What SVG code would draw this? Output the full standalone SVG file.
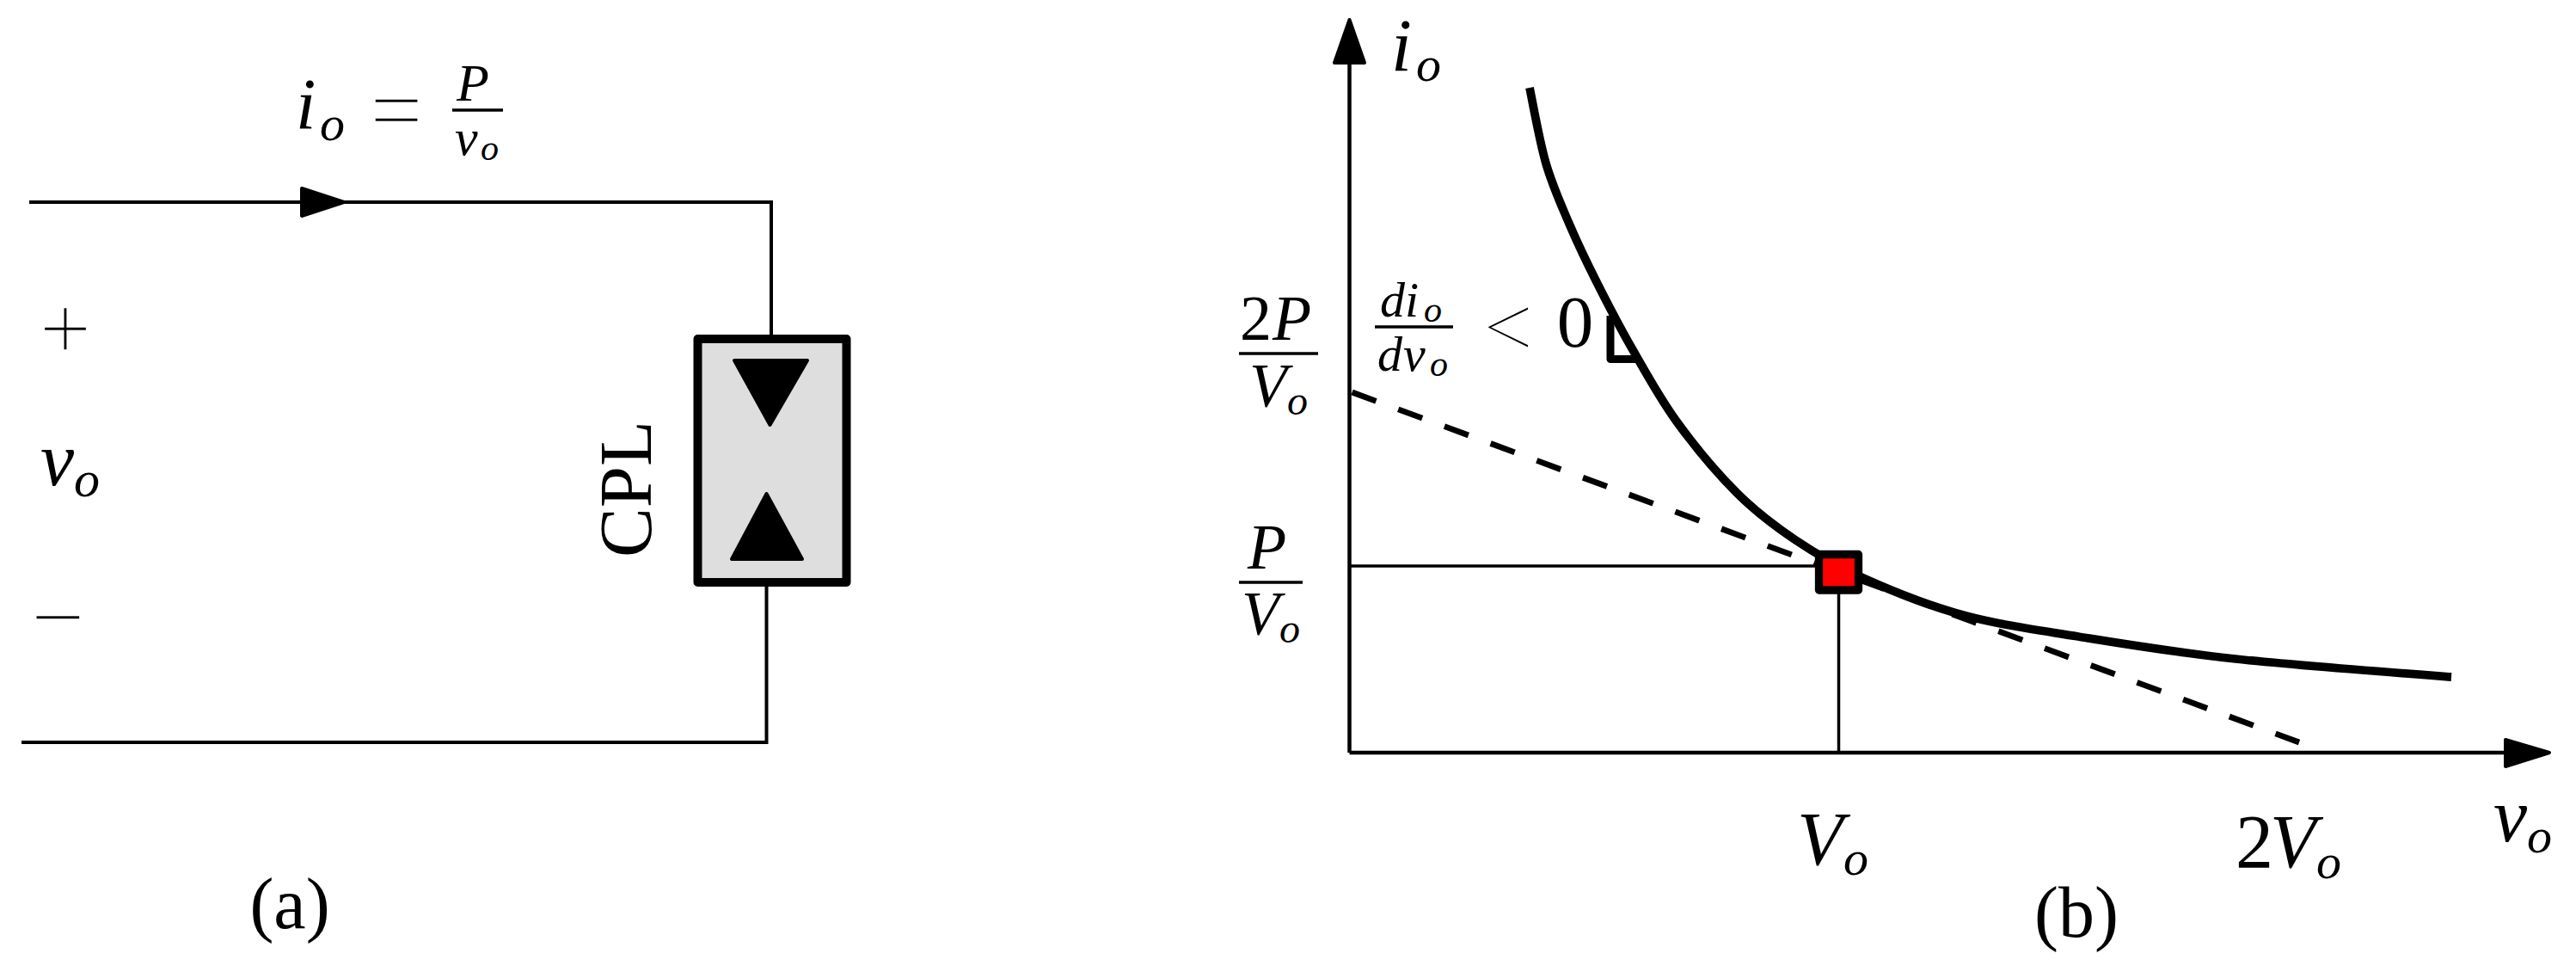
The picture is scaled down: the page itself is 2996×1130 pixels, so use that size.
<svg xmlns="http://www.w3.org/2000/svg" width="2996" height="1130" viewBox="0 0 2996 1130">
<style>
text{font-family:"Liberation Serif","Times New Roman",serif;fill:#000}
.m{font-style:italic}
.thin{stroke:#fff;stroke-width:2.500}
.wire{fill:none;stroke:#000;stroke-width:4}
.axis{fill:none;stroke:#000;stroke-width:4.500}
.bar{fill:none;stroke:#000;stroke-width:3.500}
.tri{fill:#000;stroke:#000;stroke-width:4;stroke-linejoin:round}
.heavy{fill:none;stroke:#000;stroke-width:9}
</style>
<rect width="2996" height="1130" fill="#fff"/>
<g id="connectors">
<path class="wire" d="M34 235H897V394"/>
<path class="wire" d="M25 863H891.5V677"/>
<path class="tri" d="M351 219L400 235L351 251Z"/>
<path class="axis" d="M1569.5 875V72"/>
<path class="tri" d="M1569.5 23L1587 73H1552Z"/>
<path class="axis" d="M1569.5 875H2915"/>
<path class="tri" d="M2914 860L2965 875L2914 891Z"/>
<path class="bar" d="M1569.5 658H2112"/>
<path class="bar" d="M2138.5 690V875"/>
<path fill="none" stroke="#000" stroke-width="6.800" stroke-dasharray="29.800 27.450" d="M1572.500 456L2674 863"/>
<path fill="none" stroke="#000" stroke-width="9.800" d="M1779 102C1782 116 1790.300 163.700 1798 190C1805.700 216.300 1815.200 237 1825 260C1834.800 283 1844.800 303.800 1857 328C1869.200 352.200 1882.500 378 1898 405C1913.500 432 1929.700 462 1950 490C1970.300 518 1997.200 550.200 2020 573C2042.800 595.800 2062.500 610.500 2087 627C2111.500 643.500 2134.300 657.300 2167 672C2199.700 686.700 2241.300 703.700 2283 715C2324.700 726.300 2364.200 731.500 2417 740C2469.800 748.500 2527.700 758.200 2600 766C2672.300 773.800 2811 784 2851 787"/>
<path class="heavy" stroke-linejoin="round" d="M1873 367V417.500H1902"/>
</g>
<g id="cpl">
<rect x="811.500" y="394" width="173" height="283" fill="#dedede" stroke="#000" stroke-width="10" stroke-linejoin="round"/>
<path class="tri" d="M854 419H939L895.500 494Z"/>
<path class="tri" d="M851 650H933L891.500 574Z"/>
<text transform="translate(757 648) rotate(-90)" font-size="87" textLength="159" lengthAdjust="spacingAndGlyphs">CPL</text>
</g>
<g id="label-current">
<text class="m" x="344" y="150" font-size="84">i<tspan x="372" y="163" font-size="58">o</tspan></text>
<text class="thin" x="461" y="165" font-size="110" text-anchor="middle">=</text>
<text class="m" x="531" y="117" font-size="62">P</text>
<path class="bar" d="M526 128H585"/>
<text class="m" x="529" y="180" font-size="60">v<tspan x="559" y="186" font-size="42">o</tspan></text>
</g>
<g id="label-voltage">
<text class="thin" x="76" y="418" font-size="108" text-anchor="middle">+</text>
<text class="m" x="47" y="564" font-size="88">v<tspan x="86" y="577" font-size="60">o</tspan></text>
<text class="thin" x="67" y="755" font-size="112" text-anchor="middle">−</text>
</g>
<text id="caption-a" x="337" y="1079" font-size="84" text-anchor="middle">(a)</text>
<g id="label-io">
<text class="m" x="1618" y="82" font-size="86">i<tspan x="1647" y="94" font-size="58">o</tspan></text>
</g>
<g id="label-2p">
<text x="1442" y="395" font-size="74">2<tspan class="m" x="1480">P</tspan></text>
<path class="bar" d="M1441 411H1533"/>
<text class="m" x="1453" y="472" font-size="72">V<tspan x="1497" y="482" font-size="48">o</tspan></text>
</g>
<g id="label-p">
<text class="m" x="1451" y="661" font-size="74">P</text>
<path class="bar" d="M1441 677H1515"/>
<text class="m" x="1444" y="737" font-size="72">V<tspan x="1488" y="747" font-size="48">o</tspan></text>
</g>
<g id="label-slope">
<text class="m" x="1605" y="368" font-size="58">d<tspan x="1634">i</tspan><tspan x="1656" y="374" font-size="42">o</tspan></text>
<path class="bar" d="M1599 380H1690"/>
<text class="m" x="1602" y="431" font-size="58">d<tspan x="1632">v</tspan><tspan x="1663" y="437" font-size="42">o</tspan></text>
<text class="thin" x="1754" y="415" font-size="104" text-anchor="middle">&lt;</text>
<text x="1832" y="403" font-size="85" text-anchor="middle">0</text>
</g>
<g id="operating-point">
<rect x="2115.500" y="644.500" width="46" height="41.500" fill="#f00" stroke="#000" stroke-width="9.300" stroke-linejoin="round"/>
</g>
<g id="label-vo">
<text class="m" x="2090" y="1005" font-size="88">V<tspan x="2144" y="1017" font-size="58">o</tspan></text>
</g>
<g id="label-2vo">
<text x="2600" y="1008" font-size="88">2<tspan class="m" x="2640">V</tspan><tspan class="m" x="2694" y="1021" font-size="58">o</tspan></text>
</g>
<g id="label-axis-v">
<text class="m" x="2900" y="978" font-size="88">v<tspan x="2939" y="991" font-size="58">o</tspan></text>
</g>
<text id="caption-b" x="2415" y="1089" font-size="84" text-anchor="middle">(b)</text>
</svg>
